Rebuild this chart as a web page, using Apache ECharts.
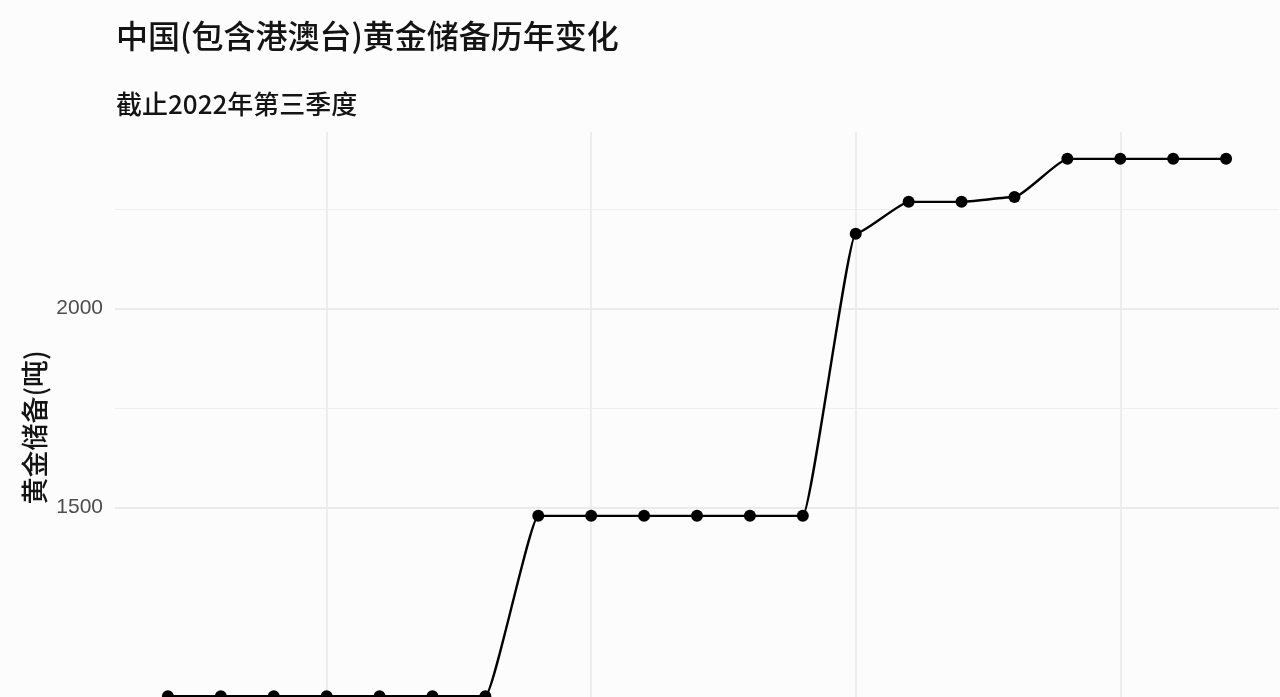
<!DOCTYPE html>
<html>
<head>
<meta charset="utf-8">
<script src="https://cdn.jsdelivr.net/npm/echarts@6/dist/echarts.min.js"></script>
<style>
  html, body { margin: 0; padding: 0; background: #fcfcfc; }
  #chart { width: 1280px; height: 697px; }
</style>
</head>
<body>
<div id="chart"></div>
<script>
// ---- data ----
const years = [2002, 2003, 2004, 2005, 2006, 2007, 2008, 2009, 2010, 2011, 2012,
               2013, 2014, 2015, 2016, 2017, 2018, 2019, 2020, 2021, 2022];
const reserves = [1026, 1026, 1026, 1026, 1026, 1026, 1026, 1479, 1479, 1479, 1479,
                  1479, 1479, 2188, 2268, 2268, 2280, 2376, 2376, 2376, 2376];
const xMajorBreaks = [2005, 2010, 2015, 2020];
const yMajorBreaks = [1500, 2000];
const yMinorBreaks = [1750, 2250];
const titleText = '中国(包含港澳台)黄金储备历年变化';
const subtitleText = '截止2022年第三季度';
const yAxisTitle = '黄金储备(吨)';

// ggplot-like 5% expansion
const yLo = Math.min(...reserves), yHi = Math.max(...reserves);
const yPad = (yHi - yLo) * 0.05;
const xLo = years[0], xHi = years[years.length - 1];
const xPad = (xHi - xLo) * 0.05;

const gridColor = '#ebebeb';
const fontCJK = '"Noto Sans CJK SC", "Noto Sans", sans-serif';
const fontNum = '"Liberation Sans", "Noto Sans CJK SC", sans-serif';

const chart = echarts.init(document.getElementById('chart'));
chart.setOption({
  backgroundColor: '#fcfcfc',
  animation: false,
  title: [
    { text: titleText, left: 116, top: 20, padding: 0,
      textStyle: { fontFamily: fontCJK, fontSize: 32, fontWeight: 500, color: '#141414' } },
    { text: subtitleText, left: 116, top: 91, padding: 0,
      textStyle: { fontFamily: fontCJK, fontSize: 26, fontWeight: 500, color: '#141414' } }
  ],
  grid: { left: 115, right: 1, top: 132, height: 591, outerBoundsMode: 'none', containLabel: false },
  xAxis: {
    type: 'value', min: xLo - xPad, max: xHi + xPad,
    axisLine: { show: false }, axisTick: { show: false },
    axisLabel: { show: false }, splitLine: { show: false }
  },
  yAxis: {
    type: 'value', min: yLo - yPad, max: yHi + yPad,
    name: yAxisTitle, nameLocation: 'middle', nameRotate: 90, nameGap: 67,
    nameTextStyle: { fontFamily: fontCJK, fontSize: 27, fontWeight: 500, color: '#141414' },
    axisLine: { show: false }, axisTick: { show: false },
    axisLabel: { show: false }, splitLine: { show: false }
  },
  series: [
    {
      type: 'line', data: [], silent: true, z: 1,
      markLine: {
        silent: true, z: 1, symbol: ['none', 'none'], animation: false,
        data: [
          ...yMinorBreaks.map(v => ({ yAxis: v, lineStyle: { color: '#efefef', width: 1.2, type: 'solid' }, label: { show: false } })),
          ...xMajorBreaks.map(v => ({ xAxis: v, lineStyle: { color: gridColor, width: 1.8, type: 'solid' }, label: { show: false } })),
          ...yMajorBreaks.map(v => ({ yAxis: v, lineStyle: { color: gridColor, width: 1.8, type: 'solid' },
            label: { show: true, position: 'start', distance: 12, formatter: String(v),
                     fontFamily: fontNum, fontSize: 21, color: '#4d4d4d' } }))
        ]
      }
    },
    {
      type: 'line', z: 5,
      data: years.map((y, i) => [y, reserves[i]]),
      smooth: 0.15, smoothMonotone: 'x',
      symbol: 'circle', symbolSize: 12,
      itemStyle: { color: '#000' },
      lineStyle: { color: '#000', width: 2.4 },
      clip: false
    }
  ]
});
</script>
</body>
</html>
